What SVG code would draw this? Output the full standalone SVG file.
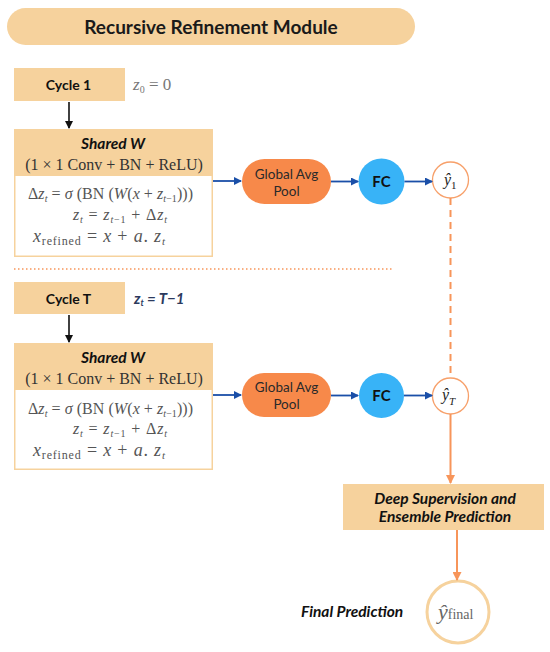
<svg xmlns="http://www.w3.org/2000/svg" width="550" height="652" viewBox="0 0 550 652">
<defs>
<style>
.tan{fill:#F6D29D}
.title{font-family:"Lato","Open Sans",sans-serif;font-weight:bold;font-size:19px;fill:#1a1a1a}
.lbl{font-family:"Lato","Open Sans",sans-serif;font-weight:bold;font-size:14px;fill:#111}
.bi{font-family:"Lato","Open Sans",sans-serif;font-weight:bold;font-style:italic;font-size:15.5px;fill:#111}
.math{font-family:"Liberation Serif","DejaVu Serif",serif;fill:#555;font-size:16px}
.mathH{font-family:"Liberation Serif","DejaVu Serif",serif;fill:#333;font-size:16px}
.it{font-style:italic}
.pill{fill:#F7894A}
.pilltxt{font-family:"Lato","Open Sans",sans-serif;font-size:13.5px;fill:#2a2a2a}
.fc{fill:#38B3F7}
.fctxt{font-family:"Lato","Open Sans",sans-serif;font-weight:bold;font-size:15px;fill:#111}
.blue{stroke:#1A4FA8;stroke-width:1.8;fill:none}
.blk{stroke:#111;stroke-width:1.6;fill:none}
.org{stroke:#F7955A;stroke-width:2;fill:none}
.yc{fill:#fff;stroke:#F7A06A;stroke-width:1.3}
</style>
<marker id="mb" markerWidth="8" markerHeight="8" refX="7" refY="4" orient="auto" markerUnits="userSpaceOnUse"><path d="M0,0 L8,4 L0,8 z" fill="#1A4FA8"/></marker>
<marker id="mk" markerWidth="8" markerHeight="8" refX="7" refY="4" orient="auto" markerUnits="userSpaceOnUse"><path d="M0,0 L8,4 L0,8 z" fill="#111"/></marker>
<marker id="mo" markerWidth="9" markerHeight="9" refX="8" refY="4.5" orient="auto" markerUnits="userSpaceOnUse"><path d="M0,0 L9,4.5 L0,9 z" fill="#F7955A"/></marker>
</defs>
<rect width="550" height="652" fill="#fff"/>

<g id="title">
<rect x="7" y="8" width="408" height="37" rx="18.5" class="tan"/>
<text x="211" y="33.5" text-anchor="middle" class="title">Recursive Refinement Module</text>
</g>

<g id="cycle1">
<rect x="14" y="68" width="111" height="33" class="tan"/>
<text x="68.5" y="90" text-anchor="middle" class="lbl">Cycle 1</text>
<text x="133" y="90" class="math" style="fill:#777;font-size:17px"><tspan class="it">z</tspan><tspan font-size="10" dy="3">0</tspan><tspan dy="-3"> = 0</tspan></text>
</g>

<g id="block1">
<rect x="14" y="129" width="199" height="128" class="tan"/>
<rect x="15.5" y="176" width="196" height="79.5" fill="#fff"/>
<text x="113" y="148.5" text-anchor="middle" class="bi">Shared W</text>
<text x="114" y="170" text-anchor="middle" class="mathH">(1 × 1 Conv + BN + ReLU)</text>
<text x="28" y="199" class="math" textLength="165" lengthAdjust="spacing">Δ<tspan class="it">z</tspan><tspan font-size="10" dy="3" class="it">t</tspan><tspan dy="-3"> = </tspan><tspan class="it">σ</tspan> (BN (<tspan class="it">W</tspan>(<tspan class="it">x</tspan> + <tspan class="it">z</tspan><tspan font-size="10" dy="3" class="it">t</tspan><tspan font-size="10">−1</tspan><tspan dy="-3">)))</tspan></text>
<text x="73" y="220" class="math" textLength="94" lengthAdjust="spacing"><tspan class="it">z</tspan><tspan font-size="10" dy="3" class="it">t</tspan><tspan dy="-3"> = </tspan><tspan class="it">z</tspan><tspan font-size="10" dy="3" class="it">t</tspan><tspan font-size="10">−1</tspan><tspan dy="-3"> + Δ</tspan><tspan class="it">z</tspan><tspan font-size="10" dy="3" class="it">t</tspan></text>
<text x="33" y="242" class="math" textLength="132" lengthAdjust="spacing"><tspan class="it" font-size="18">x</tspan><tspan font-size="12" dy="3">refined</tspan><tspan dy="-3" font-size="18"> = </tspan><tspan class="it" font-size="18">x</tspan><tspan font-size="18"> + </tspan><tspan class="it" font-size="18">a</tspan><tspan font-size="18">. </tspan><tspan class="it" font-size="18">z</tspan><tspan font-size="11" dy="3" class="it">t</tspan></text>
</g>

<g id="gap1">
<rect x="242" y="159" width="89" height="45" rx="22.5" class="pill"/>
<text x="286.5" y="179" text-anchor="middle" class="pilltxt">Global Avg</text>
<text x="286.5" y="196" text-anchor="middle" class="pilltxt">Pool</text>
</g>
<g id="fc1">
<circle cx="381.5" cy="181.5" r="23" class="fc"/>
<text x="381.5" y="187" text-anchor="middle" class="fctxt">FC</text>
</g>
<g id="y1">
<circle cx="450.5" cy="180" r="18" class="yc"/>
<text x="444" y="185" class="math" style="fill:#222;font-size:16px"><tspan class="it">ŷ</tspan><tspan font-size="11" dy="4">1</tspan></text>
</g>

<line x1="14" y1="269" x2="393" y2="269" stroke="#F7955A" stroke-width="1.6" stroke-dasharray="1.5,2.5"/>

<g id="cycleT">
<rect x="14" y="282" width="111" height="32" class="tan"/>
<text x="68.5" y="303.5" text-anchor="middle" class="lbl">Cycle T</text>
<text x="134" y="304" style="font-family:'Lato','Open Sans',sans-serif;font-style:italic;font-weight:bold;font-size:15px;fill:#2C3A5E">z<tspan font-size="9" dy="2">t</tspan><tspan dy="-2"> = T−1</tspan></text>
</g>

<g id="blockT">
<rect x="14" y="343" width="199" height="127" class="tan"/>
<rect x="15.5" y="390" width="196" height="78.5" fill="#fff"/>
<text x="113" y="362.5" text-anchor="middle" class="bi">Shared W</text>
<text x="114" y="384" text-anchor="middle" class="mathH">(1 × 1 Conv + BN + ReLU)</text>
<text x="28" y="414" class="math" textLength="165" lengthAdjust="spacing">Δ<tspan class="it">z</tspan><tspan font-size="10" dy="3" class="it">t</tspan><tspan dy="-3"> = </tspan><tspan class="it">σ</tspan> (BN (<tspan class="it">W</tspan>(<tspan class="it">x</tspan> + <tspan class="it">z</tspan><tspan font-size="10" dy="3" class="it">t</tspan><tspan font-size="10">−1</tspan><tspan dy="-3">)))</tspan></text>
<text x="73" y="434" class="math" textLength="94" lengthAdjust="spacing"><tspan class="it">z</tspan><tspan font-size="10" dy="3" class="it">t</tspan><tspan dy="-3"> = </tspan><tspan class="it">z</tspan><tspan font-size="10" dy="3" class="it">t</tspan><tspan font-size="10">−1</tspan><tspan dy="-3"> + Δ</tspan><tspan class="it">z</tspan><tspan font-size="10" dy="3" class="it">t</tspan></text>
<text x="33" y="456" class="math" textLength="132" lengthAdjust="spacing"><tspan class="it" font-size="18">x</tspan><tspan font-size="12" dy="3">refined</tspan><tspan dy="-3" font-size="18"> = </tspan><tspan class="it" font-size="18">x</tspan><tspan font-size="18"> + </tspan><tspan class="it" font-size="18">a</tspan><tspan font-size="18">. </tspan><tspan class="it" font-size="18">z</tspan><tspan font-size="11" dy="3" class="it">t</tspan></text>
</g>

<g id="gapT">
<rect x="242" y="373" width="89" height="44" rx="22" class="pill"/>
<text x="286.5" y="392" text-anchor="middle" class="pilltxt">Global Avg</text>
<text x="286.5" y="409" text-anchor="middle" class="pilltxt">Pool</text>
</g>
<g id="fcT">
<circle cx="381.5" cy="395.5" r="22.5" class="fc"/>
<text x="381.5" y="401" text-anchor="middle" class="fctxt">FC</text>
</g>
<g id="yT">
<circle cx="450.5" cy="396" r="18" class="yc"/>
<text x="442" y="400" class="math" style="fill:#222;font-size:16px"><tspan class="it">ŷ</tspan><tspan font-size="11" dy="5" class="it">T</tspan></text>
</g>

<g id="deepsup">
<rect x="343" y="484" width="201" height="46" class="tan"/>
<text x="445" y="503.5" text-anchor="middle" class="bi">Deep Supervision and</text>
<text x="445" y="522" text-anchor="middle" class="bi">Ensemble Prediction</text>
</g>

<g id="final">
<circle cx="458" cy="612" r="31" fill="#fff" stroke="#F6D29D" stroke-width="3"/>
<text x="438" y="619" style="font-family:'Liberation Serif','DejaVu Serif',serif;fill:#666"><tspan class="it" font-size="22">ŷ</tspan><tspan font-size="14">final</tspan></text>
<text x="301" y="617" class="bi">Final Prediction</text>
</g>

<g id="connectors">
<line x1="69" y1="102" x2="69" y2="128" class="blk" marker-end="url(#mk)"/>
<line x1="69" y1="315" x2="69" y2="342" class="blk" marker-end="url(#mk)"/>
<line x1="213" y1="181" x2="241" y2="181" class="blue" marker-end="url(#mb)"/>
<line x1="331" y1="181.5" x2="358" y2="181.5" class="blue" marker-end="url(#mb)"/>
<line x1="404.5" y1="181.5" x2="432" y2="181.5" class="blue" marker-end="url(#mb)"/>
<line x1="213" y1="395" x2="241" y2="395" class="blue" marker-end="url(#mb)"/>
<line x1="331" y1="395.5" x2="358" y2="395.5" class="blue" marker-end="url(#mb)"/>
<line x1="404" y1="395.5" x2="432" y2="395.5" class="blue" marker-end="url(#mb)"/>
<line x1="450.5" y1="198" x2="450.5" y2="378" class="org" stroke-dasharray="7,5"/>
<line x1="450.5" y1="414" x2="450.5" y2="483" class="org" marker-end="url(#mo)"/>
<line x1="457" y1="530" x2="457" y2="580" class="org" marker-end="url(#mo)"/>
</g>
</svg>
